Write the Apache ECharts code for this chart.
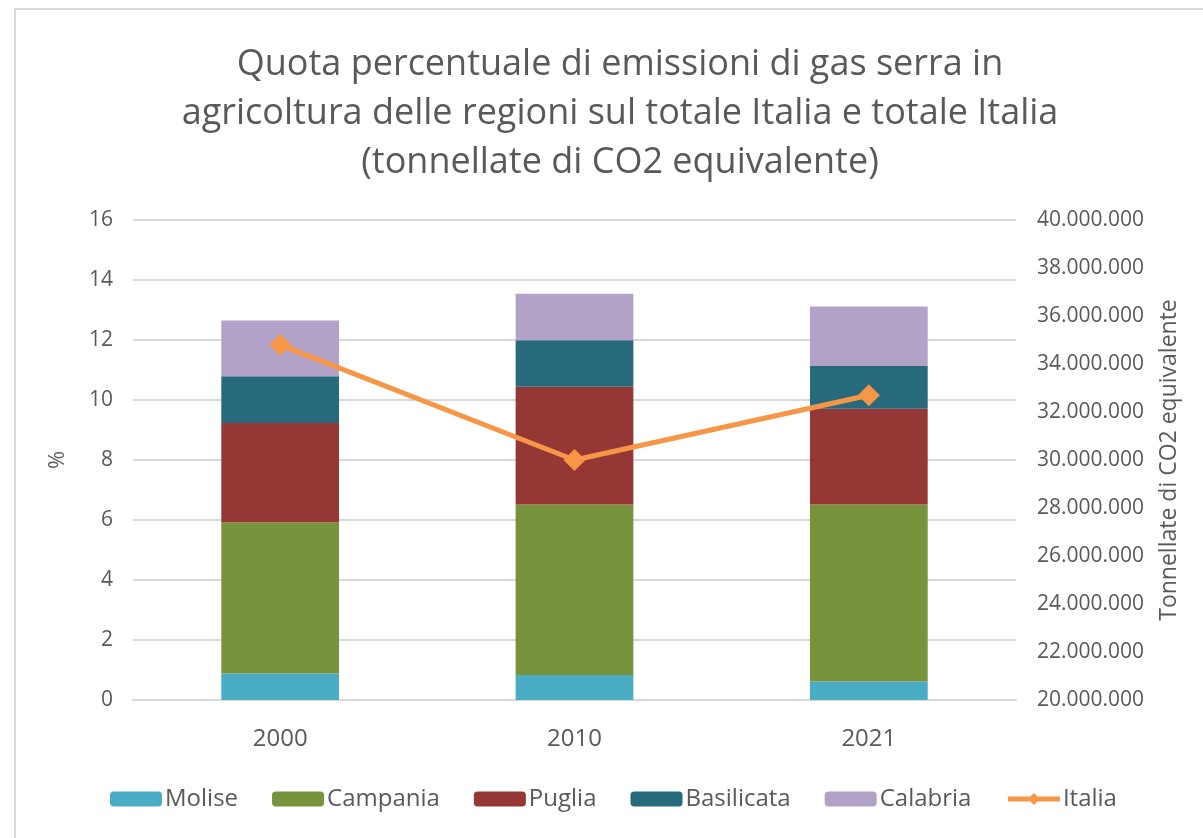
<!DOCTYPE html>
<html>
<head>
<meta charset="utf-8">
<script src="https://cdn.jsdelivr.net/npm/echarts@6/dist/echarts.min.js"></script>
<style>
  html, body { margin: 0; padding: 0; background: #fff; }
  #chart { width: 1203px; height: 838px; }
</style>
</head>
<body>
<div id="chart"></div>
<script>
// dati
var anni = ['2000', '2010', '2021'];
var molise = [0.88, 0.83, 0.62];
var campania = [5.04, 5.69, 5.90];
var puglia = [3.31, 3.92, 3.19];
var basilicata = [1.56, 1.55, 1.42];
var calabria = [1.86, 1.55, 1.99];
var italia = [34800000, 30000000, 32700000];

var grigio = '#595959';
var font = 'Open Sans';

var chart = echarts.init(document.getElementById('chart'));

function barra(nome, dati, colore) {
    return {
        name: nome,
        type: 'bar',
        stack: 'regioni',
        barWidth: '40%',
        data: dati,
        itemStyle: { color: colore }
    };
}

var option = {
    backgroundColor: '#fff',
    textStyle: { fontFamily: font },
    graphic: [{
        type: 'rect',
        shape: { x: 15, y: 9, width: 1220, height: 860 },
        style: { fill: 'none', stroke: '#d9d9d9', lineWidth: 2 },
        silent: true
    }],
    title: {
        text: 'Quota percentuale di emissioni di gas serra in\nagricoltura delle regioni sul totale Italia e totale Italia\n(tonnellate di CO2 equivalente)',
        left: 615,
        top: 35,
        textAlign: 'center',
        textStyle: {
            fontFamily: font,
            fontSize: 36,
            fontWeight: 'normal',
            color: grigio,
            lineHeight: 49
        }
    },
    legend: {
        bottom: 22,
        left: 105,
        itemWidth: 52,
        itemHeight: 15,
        itemGap: 34,
        lineStyle: { width: 5 },
        textStyle: { fontFamily: font, fontSize: 24, color: grigio, padding: [0, 0, 0, -2] },
        data: ['Molise', 'Campania', 'Puglia', 'Basilicata', 'Calabria', 'Italia']
    },
    grid: { left: 133, right: 187, top: 220, bottom: 138 },
    xAxis: {
        type: 'category',
        data: anni,
        axisTick: { show: false },
        axisLine: { lineStyle: { color: '#d9d9d9', width: 2 } },
        axisLabel: { fontSize: 24, color: grigio, margin: 27 }
    },
    yAxis: [{
        type: 'value',
        min: 0,
        max: 16,
        interval: 2,
        name: '%',
        nameLocation: 'middle',
        nameGap: 64,
        nameTextStyle: { fontSize: 22, color: grigio },
        axisLabel: { fontSize: 21, color: grigio, margin: 20 },
        splitLine: { lineStyle: { color: '#d9d9d9', width: 2 } }
    }, {
        type: 'value',
        min: 20000000,
        max: 40000000,
        interval: 2000000,
        name: 'Tonnellate di CO2 equivalente',
        nameLocation: 'middle',
        nameGap: 142,
        nameRotate: 90,
        nameTextStyle: { fontSize: 23, color: grigio },
        axisLabel: {
            fontSize: 21,
            color: grigio,
            margin: 21,
            formatter: function (v) {
                return String(v).replace(/\B(?=(\d{3})+(?!\d))/g, '.');
            }
        },
        splitLine: { show: false }
    }],
    series: [
        barra('Molise', molise, '#4BACC6'),
        barra('Campania', campania, '#77933C'),
        barra('Puglia', puglia, '#953735'),
        barra('Basilicata', basilicata, '#276A7C'),
        barra('Calabria', calabria, '#B3A2C7'),
        {
            name: 'Italia',
            type: 'line',
            yAxisIndex: 1,
            data: italia,
            symbol: 'diamond',
            symbolSize: 22,
            lineStyle: { color: '#F79646', width: 5 },
            itemStyle: { color: '#F79646' },
            z: 5
        }
    ]
};

chart.setOption(option);
</script>
</body>
</html>
